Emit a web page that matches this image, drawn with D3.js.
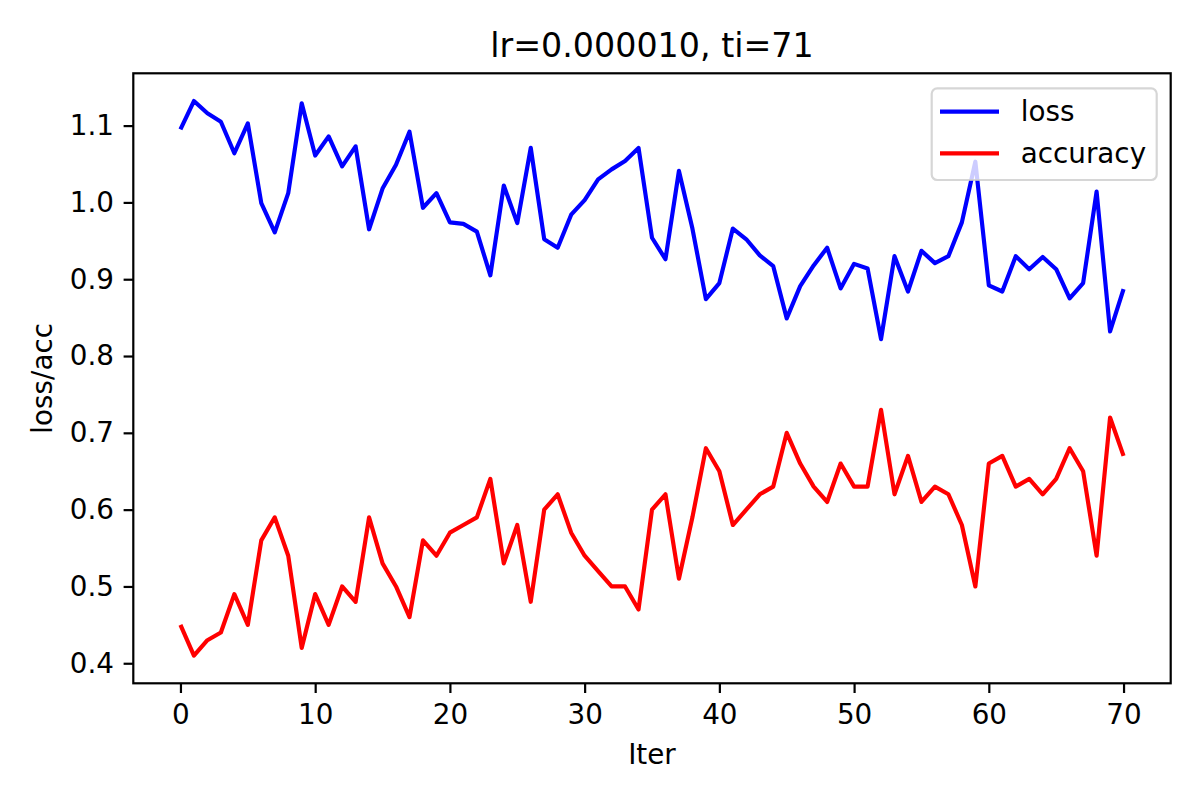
<!DOCTYPE html>
<html>
<head>
<meta charset="utf-8">
<script src="https://cdn.jsdelivr.net/npm/d3@7"></script>
<style>
  html, body { margin: 0; padding: 0; background: #fff; }
  svg { display: block; font-family: "DejaVu Sans", sans-serif; }
</style>
</head>
<body>
<svg id="chart" width="1200" height="800"></svg>
<script>
const titleText = "lr=0.000010, ti=71";
const xLabel = "Iter";
const yLabel = "loss/acc";
const seriesNames = ["loss", "accuracy"];
const seriesColors = ["#0000ff", "#ff0000"];
const xTicks = [0, 10, 20, 30, 40, 50, 60, 70];
const yTicks = [0.4, 0.5, 0.6, 0.7, 0.8, 0.9, 1.0, 1.1];

const loss = [1.095, 1.132, 1.116, 1.105, 1.064, 1.103, 0.999, 0.961, 1.012, 1.129,
  1.061, 1.086, 1.047, 1.073, 0.965, 1.018, 1.049, 1.092, 0.993, 1.012,
  0.974, 0.972, 0.962, 0.905, 1.022, 0.973, 1.071, 0.952, 0.941, 0.984,
  1.003, 1.030, 1.043, 1.054, 1.071, 0.954, 0.926, 1.041, 0.966, 0.874,
  0.895, 0.966, 0.952, 0.931, 0.917, 0.849, 0.891, 0.918, 0.941, 0.888,
  0.920, 0.914, 0.822, 0.930, 0.884, 0.937, 0.921, 0.930, 0.974, 1.053,
  0.892, 0.884, 0.930, 0.913, 0.929, 0.913, 0.875, 0.895, 1.014, 0.832,
  0.887];
const accuracy = [0.45, 0.41, 0.43, 0.44, 0.49, 0.45, 0.56, 0.59, 0.54, 0.42,
  0.49, 0.45, 0.50, 0.48, 0.59, 0.53, 0.50, 0.46, 0.56, 0.54,
  0.57, 0.58, 0.59, 0.64, 0.53, 0.58, 0.48, 0.60, 0.62, 0.57,
  0.54, 0.52, 0.50, 0.50, 0.47, 0.60, 0.62, 0.51, 0.59, 0.68,
  0.65, 0.58, 0.60, 0.62, 0.63, 0.70, 0.66, 0.63, 0.61, 0.66,
  0.63, 0.63, 0.73, 0.62, 0.67, 0.61, 0.63, 0.62, 0.58, 0.50,
  0.66, 0.67, 0.63, 0.64, 0.62, 0.64, 0.68, 0.65, 0.54, 0.72,
  0.67];

const svg = d3.select("#chart");
const L = 133.3, R = 1170.7, T = 73.3, B = 683.3;
const n = loss.length;
const xPad = (n - 1) * 0.05;
const x = d3.scaleLinear().domain([-xPad, (n - 1) + xPad]).range([L, R]);
const allV = loss.concat(accuracy);
const vmin = d3.min(allV), vmax = d3.max(allV);
const yPad = (vmax - vmin) * 0.05;
const y = d3.scaleLinear().domain([vmin - yPad, vmax + yPad]).range([B, T]);

const fs = 27.8;

// lines
const lineGen = d3.line().x((d, i) => x(i)).y(d => y(d));
[loss, accuracy].forEach((s, k) => {
  svg.append("path").datum(s)
    .attr("d", lineGen)
    .attr("fill", "none")
    .attr("stroke", seriesColors[k])
    .attr("stroke-width", 4.17)
    .attr("stroke-linejoin", "round")
    .attr("stroke-linecap", "butt");
});

// axes
const xAxis = d3.axisBottom(x).tickValues(xTicks).tickSize(9.7).tickPadding(9.7).tickFormat(d3.format("d"));
const yAxis = d3.axisLeft(y).tickValues(yTicks).tickSize(9.7).tickPadding(9.7).tickFormat(d3.format(".1f"));

const gx = svg.append("g").attr("transform", `translate(0,${B})`).call(xAxis);
const gy = svg.append("g").attr("transform", `translate(${L},0)`).call(yAxis);
[gx, gy].forEach(g => {
  g.select(".domain").remove();
  g.selectAll(".tick line").attr("stroke", "#000").attr("stroke-width", 2.2);
  g.selectAll(".tick text").attr("fill", "#000").style("font-size", fs + "px")
    .style("font-family", "'DejaVu Sans', sans-serif");
});
gx.selectAll(".tick text").attr("dy", "0.76em");

// frame
svg.append("rect").attr("x", L).attr("y", T).attr("width", R - L).attr("height", B - T)
  .attr("fill", "none").attr("stroke", "#000").attr("stroke-width", 2.2);

// title and labels
svg.append("text").attr("x", (L + R) / 2).attr("y", 57).attr("text-anchor", "middle")
  .style("font-size", "33.3px").attr("fill", "#000").text(titleText);
svg.append("text").attr("x", (L + R) / 2).attr("y", 764).attr("text-anchor", "middle")
  .style("font-size", fs + "px").attr("fill", "#000").text(xLabel);
svg.append("text").attr("transform", `translate(52,${(T + B) / 2}) rotate(-90)`)
  .attr("text-anchor", "middle").style("font-size", fs + "px").attr("fill", "#000").text(yLabel);

// legend
const lg = svg.append("g");
lg.append("rect").attr("x", 931.7).attr("y", 88.3).attr("width", 225).attr("height", 91.7)
  .attr("rx", 5.5).attr("ry", 5.5)
  .attr("fill", "#fff").attr("fill-opacity", 0.8)
  .attr("stroke", "#cccccc").attr("stroke-opacity", 0.8).attr("stroke-width", 2.2);
seriesNames.forEach((name, k) => {
  const yy = 111.7 + k * 41.6;
  lg.append("line").attr("x1", 940).attr("x2", 999).attr("y1", yy).attr("y2", yy)
    .attr("stroke", seriesColors[k]).attr("stroke-width", 4.17);
  lg.append("text").attr("x", 1020.7).attr("y", yy + 9.5)
    .style("font-size", fs + "px").attr("fill", "#000").text(name);
});
</script>
</body>
</html>
